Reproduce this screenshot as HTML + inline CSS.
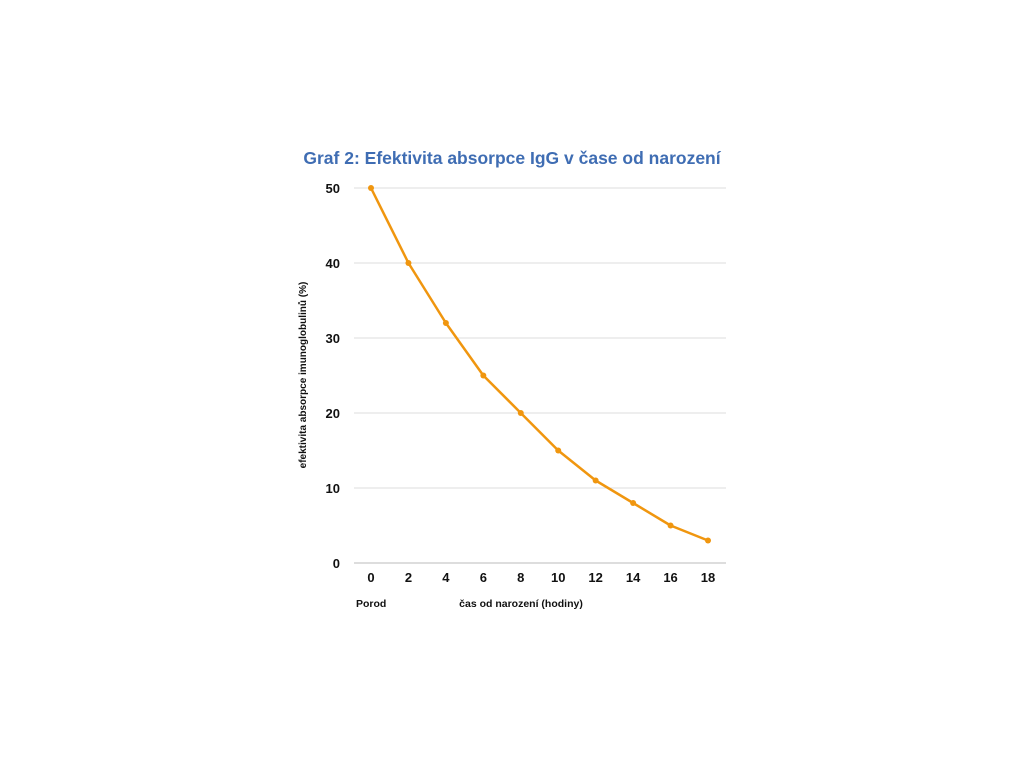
<!DOCTYPE html>
<html><head><meta charset="utf-8"><style>
html,body{margin:0;padding:0;background:#fff;width:1024px;height:768px;overflow:hidden}
text{font-family:"Liberation Sans","DejaVu Sans",sans-serif}
</style></head><body>
<svg id="chart" width="1024" height="768" viewBox="0 0 1024 768" xmlns="http://www.w3.org/2000/svg">
<text x="512" y="164" text-anchor="middle" font-size="17.5" font-weight="bold" fill="#3f6db3">Graf 2: Efektivita absorpce IgG v čase od narození</text>
<text transform="translate(306,375) rotate(-90)" text-anchor="middle" font-size="10" font-weight="bold" fill="#111">efektivita absorpce imunoglobulinů (%)</text>
<text x="356" y="607" font-size="10.5" font-weight="bold" fill="#111">Porod</text>
<text x="521" y="607" text-anchor="middle" font-size="10.5" font-weight="bold" fill="#111">čas od narození (hodiny)</text>
<g id="grid"></g><g id="series"></g>
</svg>
<script>
const categories=[0,2,4,6,8,10,12,14,16,18];
const values=[50,40,32,25,20,15,11,8,5,3];
const yTicks=[0,10,20,30,40,50];
const NS="http://www.w3.org/2000/svg";
const x=v=>371+(v-0)*(708-371)/18;
const y=v=>563-v*7.5;
const grid=document.getElementById('grid'),ser=document.getElementById('series');
function mk(tag,attrs,parent){const e=document.createElementNS(NS,tag);for(const k in attrs)e.setAttribute(k,attrs[k]);parent.appendChild(e);return e;}
yTicks.forEach(t=>{
 const l=mk('line',{x1:354,x2:726,y1:y(t),y2:y(t),stroke:t===0?'#bbb':'#ddd','stroke-width':1},grid);
 
 
 const tx=mk('text',{x:340,y:y(t)+5,'text-anchor':'end','font-size':13,'font-weight':'bold',fill:'#111'},grid);
 tx.textContent=t;
 
 
});
categories.forEach(c=>{
 const tx=mk('text',{x:x(c),y:582,'text-anchor':'middle','font-size':13,'font-weight':'bold',fill:'#111'},grid);
 tx.textContent=c;
 
 
});
const pl=mk('polyline',{points:categories.map((c,i)=>x(c)+','+y(values[i])).join(' '),fill:'none',stroke:'#f0960f','stroke-width':2.5,'stroke-linejoin':'round'},ser);


categories.forEach((c,i)=>{
 const p=mk('circle',{cx:x(c),cy:y(values[i]),r:3,fill:'#f0960f'},ser);
 
 
});
</script>
</body></html>
